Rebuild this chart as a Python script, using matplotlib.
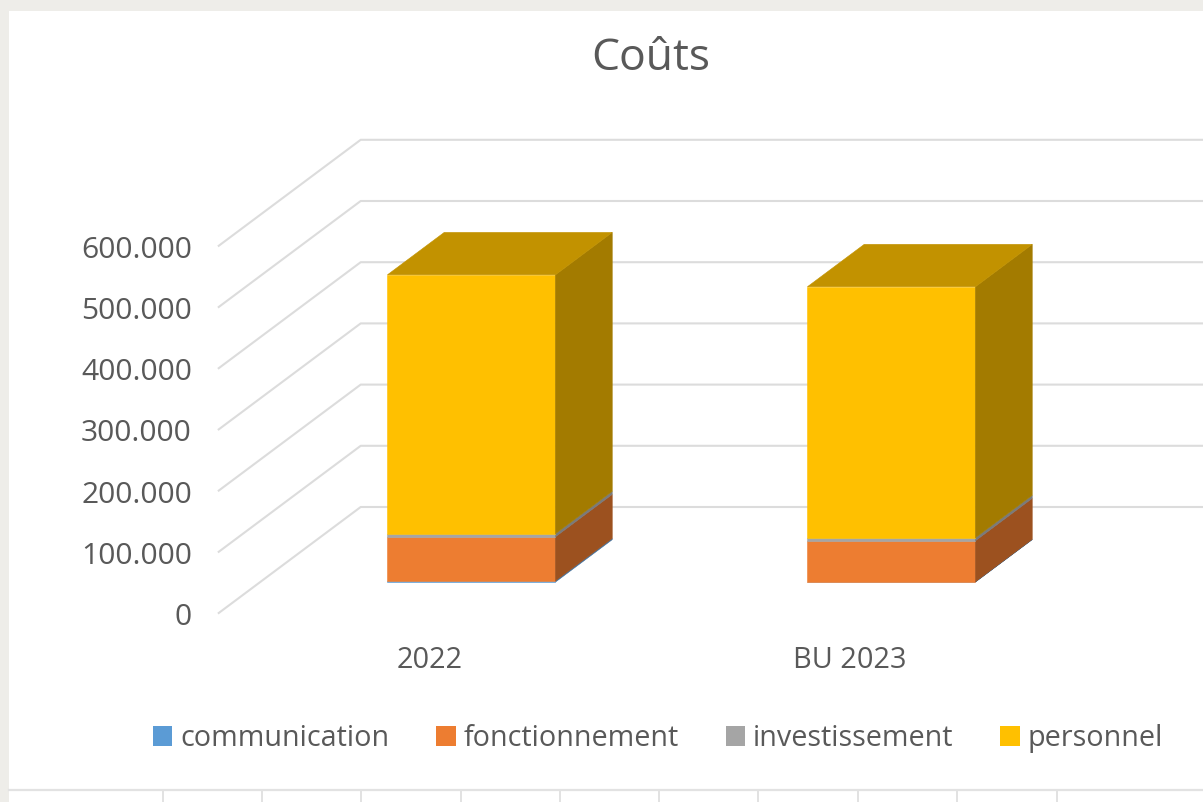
import matplotlib
matplotlib.use("Agg")
import matplotlib.pyplot as plt
from matplotlib.lines import Line2D
from matplotlib.patches import Patch, Polygon, Rectangle

plt.rcParams['font.family'] = ['Open Sans', 'DejaVu Sans']

categories = ["2022", "BU 2023"]
series_names = ["communication", "fonctionnement", "investissement", "personnel"]
communication = [2000, 500]
fonctionnement = [72000, 67000]
investissement = [5000, 5000]
personnel = [423000, 410000]
ticks = [0, 100000, 200000, 300000, 400000, 500000, 600000]
tick_labels = ["0", "100.000", "200.000", "300.000", "400.000", "500.000", "600.000"]

front_colors = ["#5B9BD5", "#ED7D31", "#A5A5A5", "#FFC000"]
side_colors = ["#3F6F9C", "#9C511F", "#7A7A7A", "#A37B00"]
top_color = "#C29200"
text_color = "#595959"
grid_color = "#DCDCDC"

W, H = 1203, 802
# fake 3D: a point at depth d is shifted right and up
DX = 0.338
DY = 173200
BAR_D0 = 0.292
BAR_D1 = 0.692
BAR_WIDTH = 0.4


def project(x, v, d):
    return x + d * DX, v + d * DY


def face(ax, pts, color, z):
    ax.add_patch(Polygon([project(*p) for p in pts], closed=True, facecolor=color,
                         edgecolor=color, linewidth=0.4, zorder=z))


fig = plt.figure(figsize=(W / 100, H / 100), dpi=100, facecolor="#EEEDE9")
fig.add_artist(Rectangle((9 / W, 0), 1 - 9 / W, 1 - 11 / H, transform=fig.transFigure,
                         facecolor="white", edgecolor="none", zorder=-1))

# table lines below the chart
fig.add_artist(Line2D([9 / W, 1], [1 - 790 / H] * 2, color="#E2E2E2", lw=1.6))
for px in [163, 262, 361, 461, 560, 659, 758, 858, 957, 1057]:
    fig.add_artist(Line2D([px / W] * 2, [0, 1 - 790 / H], color="#E2E2E2", lw=1.4))

ax = fig.add_axes([0, 0, 1, 1])
ax.set_xlim(-1.0238, 1.8405)
ax.set_ylim(-308800, 1001600)
ax.axis("off")

# walls
x_left = -0.503
for v in ticks:
    xs, ys = zip(project(x_left, v, 0), project(x_left, v, 1), project(2.0, v, 1))
    ax.plot(xs, ys, color=grid_color, lw=1.5, zorder=1)

# bars
for i, cat in enumerate(categories):
    l = i - BAR_WIDTH / 2
    r = i + BAR_WIDTH / 2
    base = 0
    for j, vals in enumerate([communication, fonctionnement, investissement, personnel]):
        top = base + vals[i]
        face(ax, [(l, base, BAR_D0), (r, base, BAR_D0), (r, top, BAR_D0), (l, top, BAR_D0)],
             front_colors[j], 3)
        face(ax, [(r, base, BAR_D0), (r, base, BAR_D1), (r, top, BAR_D1), (r, top, BAR_D0)],
             side_colors[j], 3)
        base = top
    face(ax, [(l, base, BAR_D0), (r, base, BAR_D0), (r, base, BAR_D1), (l, base, BAR_D1)],
         top_color, 3)
    ax.text(i, -78000, cat, ha="center", va="center", fontsize=20.8, color=text_color)

for v, lab in zip(ticks, tick_labels):
    ax.text(-0.567, v - 7500, lab, ha="right", va="center", fontsize=21.6, color=text_color)

fig.text(651 / W, 1 - 59 / H, "Coûts", ha="center", va="center", fontsize=32, color=text_color)

handles = [Patch(facecolor=c, edgecolor="none") for c in front_colors]
ax.legend(handles, series_names, loc="center", bbox_to_anchor=(658 / W, 1 - 738.4 / H),
          ncol=4, frameon=False, fontsize=20.7, labelcolor=text_color,
          handlelength=0.68, handleheight=0.68, handletextpad=0.28, columnspacing=1.62,
          borderpad=0, borderaxespad=0)

fig.savefig("out.png", dpi=100, facecolor=fig.get_facecolor())
